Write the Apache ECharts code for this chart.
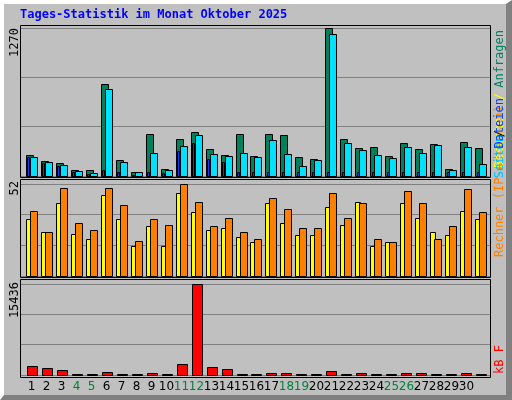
<!DOCTYPE html>
<html>
<head>
<meta charset="utf-8">
<script src="https://cdn.jsdelivr.net/npm/echarts@6/dist/echarts.min.js"></script>
<style>
  html, body { margin: 0; padding: 0; background: #fff; }
  #chart { width: 512px; height: 400px; }
</style>
</head>
<body>
<div id="chart"></div>
<script>
// Tage 1..31, Wochenende grün
const days = Array.from({ length: 31 }, (_, i) => i + 1);
const weekend = [4, 5, 11, 12, 18, 19, 25, 26];

// oberes Feld: Anfragen / Dateien / Seiten
const hits  = [179, 128, 111, 51, 51, 792, 136, 34, 358, 60, 315, 375, 230, 179, 358, 170,
               358, 349, 162, 145, 1270, 315, 238, 247, 170, 281, 230, 272, 60, 290, 238];
const files = [162, 119, 94, 43, 26, 750, 119, 34, 196, 51, 255, 349, 187, 170, 196, 162,
               307, 187, 85, 136, 1218, 281, 221, 179, 153, 247, 196, 264, 51, 247, 102];
const pages = [160, 115, 90, 34, 20, 51, 34, 8, 34, 25, 213, 281, 145, 119, 34, 34,
               34, 34, 34, 34, 34, 34, 34, 34, 34, 34, 34, 34, 34, 34, 34];

// mittleres Feld: Besuche / Rechner
const visits = [32, 25, 41, 24, 21, 46, 32, 17, 28, 17, 47, 36, 26, 27, 22, 19,
                41, 30, 23, 23, 39, 29, 42, 17, 19, 41, 33, 25, 23, 37, 32];
const sites  = [37, 25, 50, 30, 26, 50, 40, 20, 32, 29, 52, 42, 28, 33, 25, 21,
                44, 38, 27, 27, 47, 33, 41, 21, 19, 48, 41, 21, 28, 49, 36];

// unteres Feld: kB F
const kbytes = [1530, 1190, 800, 100, 100, 500, 100, 100, 300, 100, 1870, 15436, 1360, 1020, 100, 100,
                300, 300, 100, 100, 680, 100, 300, 100, 100, 300, 300, 100, 100, 300, 100];

const maxTop = 1270, maxMid = 52, maxBot = 15436;

const chart = echarts.init(document.getElementById("chart"));

// Balken relativ zur Tagesmitte zeichnen
function bars(gridIdx, data, color, dx, w) {
  return {
    type: "custom",
    xAxisIndex: gridIdx,
    yAxisIndex: gridIdx,
    data: data.map((v, i) => [i + 1, v]),
    renderItem: function (params, api) {
      const x = api.value(0);
      const v = api.value(1);
      const p0 = api.coord([x, 0]);
      const p1 = api.coord([x, v]);
      return {
        type: "rect",
        shape: { x: Math.round(p0[0] + dx) + 0.5, y: Math.round(p1[1]) + 0.5, width: w, height: Math.max(1, Math.round(p0[1] - p1[1])) },
        style: { fill: color, stroke: "#000", lineWidth: 1 },
      };
    },
  };
}

function xAxis(idx, showLabels) {
  return {
    type: "value",
    gridIndex: idx,
    min: 0.2333,
    max: 31.5667,
    axisLine: { show: false },
    axisTick: { show: false },
    splitLine: { show: false },
    axisLabel: {
      show: showLabels,
      customValues: days,
      margin: 6,
      fontFamily: "DejaVu Sans",
      fontSize: 12,
      color: (v) => (weekend.includes(Math.round(v)) ? "#008040" : "#000"),
      formatter: (v) => String(Math.round(v)),
    },
  };
}

function yAxis(idx, max) {
  return {
    type: "value",
    gridIndex: idx,
    min: 0,
    max: max,
    interval: max / 3,
    axisLine: { show: false },
    axisTick: { show: false },
    axisLabel: { show: false },
    splitLine: { show: true, lineStyle: { color: "#808080", width: 1 } },
  };
}

function vtext(x, y, text, color, align, size) {
  return {
    type: "text",
    x: x, y: y,
    rotation: Math.PI / 2,
    z: 10,
    style: {
      text: text, fill: color, align: align, verticalAlign: "middle",
      font: (size || 12) + "px 'DejaVu Sans Mono'",
    },
  };
}

function panel(y, h) {
  return { type: "rect", shape: { x: 20.5, y: y + 0.5, width: 470, height: h }, style: { fill: "none", stroke: "#000", lineWidth: 1 }, z: 5 };
}

chart.setOption({
  backgroundColor: "#c0c0c0",
  animation: false,
  grid: [
    { left: 20, width: 470, top: 28, height: 148 },
    { left: 20, width: 470, top: 184, height: 92 },
    { left: 20, width: 470, top: 284, height: 91 },
  ],
  xAxis: [xAxis(0, false), xAxis(1, false), xAxis(2, true)],
  yAxis: [yAxis(0, maxTop), yAxis(1, maxMid), yAxis(2, maxBot)],
  graphic: [
    { type: "rect", shape: { x: 0, y: 0, width: 512, height: 400 }, style: { fill: "#fff" }, z: -10 },
    { type: "polygon", shape: { points: [[512, 0], [512, 400], [0, 400], [4, 395], [506, 395], [506, 4]] }, style: { fill: "#808080" }, z: -9 },
    { type: "rect", shape: { x: 4, y: 4, width: 502, height: 391 }, style: { fill: "#c0c0c0" }, z: -9 },
    panel(25, 152), panel(179, 98), panel(279, 98),
    {
      type: "text", x: 20, y: 15, z: 10,
      style: { text: "Tages-Statistik im Monat Oktober 2025", fill: "#0000ff", font: "bold 12px 'DejaVu Sans Mono'", verticalAlign: "middle" },
    },
    vtext(15, 28, "1270", "#000", "right", 12),
    vtext(15, 181, "52", "#000", "right", 12),
    vtext(15, 282, "15436", "#000", "right", 12),
    vtext(500, 257, "Rechner (IP-Adressen)", "#ff8000", "left", 12),
    vtext(500, 168, "Besuche", "#ffff00", "left", 12),
    vtext(500, 135, "Seiten", "#00c0ff", "right", 12),
    vtext(500, 130, "/", "#000", "right", 12),
    vtext(500, 98, "Dateien", "#0040ff", "right", 12),
    vtext(500, 93, "/", "#ffff00", "right", 12),
    vtext(500, 30, "Anfragen", "#008060", "right", 12),
    vtext(500, 374, "kB F", "#ff0000", "left", 12),
  ],
  series: [
    bars(0, hits, "#00805c", -6, 7),
    bars(0, pages, "#0040ff", -4.5, 2),
    bars(0, files, "#00e0ff", -2, 7),
    bars(1, visits, "#ffff00", -6, 5),
    bars(1, sites, "#ff8000", -2, 7),
    bars(2, kbytes, "#ff0000", -5, 10),
  ],
});

window.addEventListener("resize", () => chart.resize());
</script>
</body>
</html>
